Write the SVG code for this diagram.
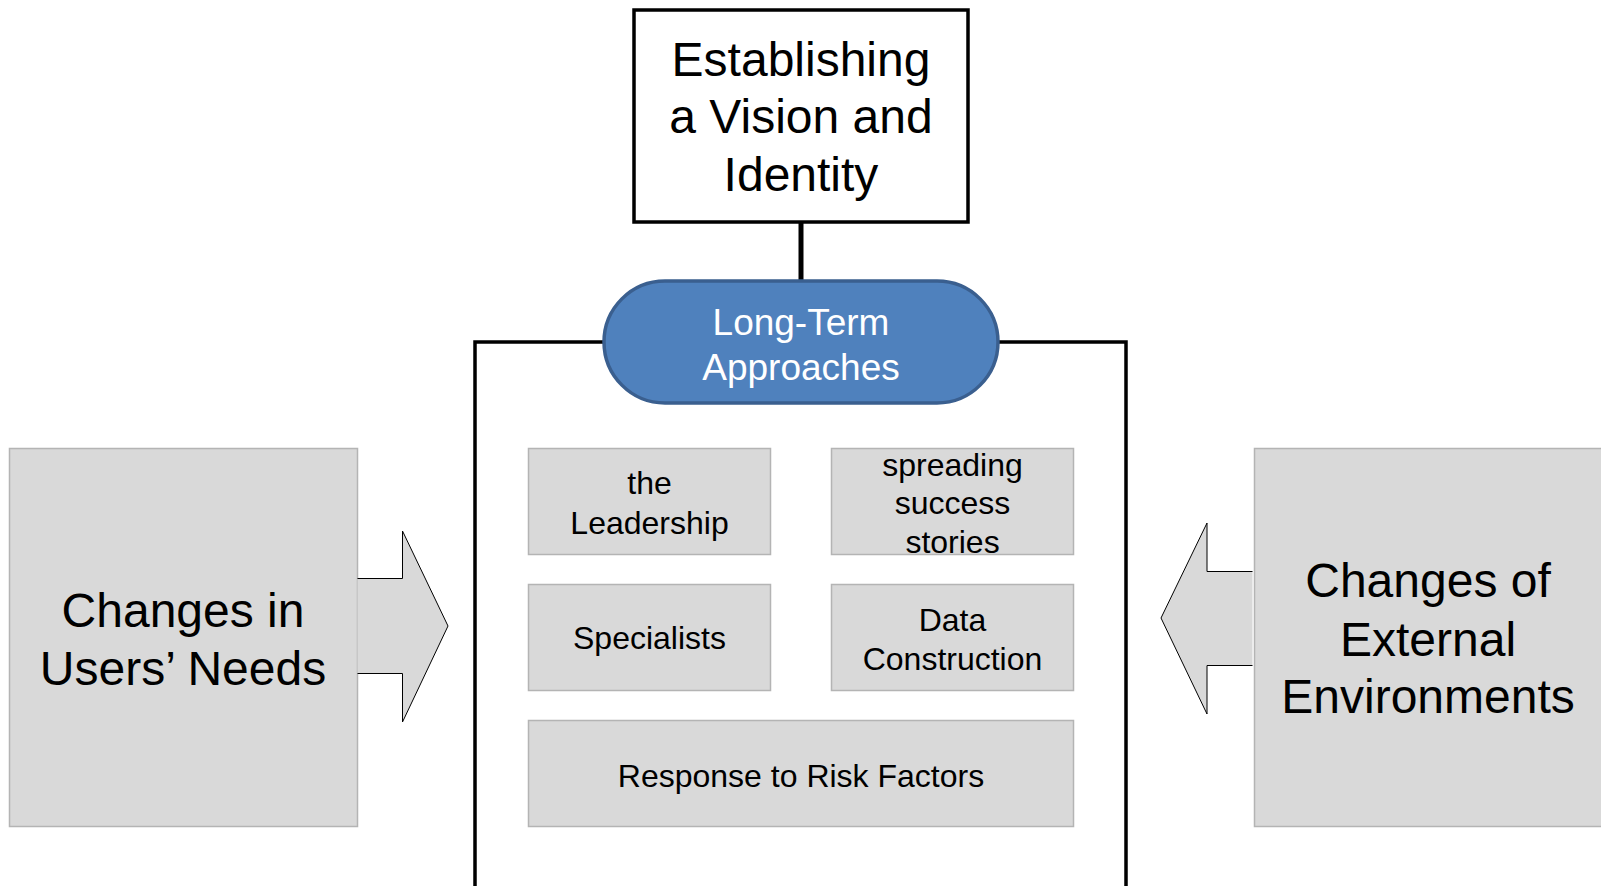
<svg xmlns="http://www.w3.org/2000/svg" width="1601" height="886" viewBox="0 0 1601 886" font-family="Liberation Sans, Arial, Helvetica, sans-serif">
<style>
text{text-anchor:middle;fill:#000}
.big{font-size:48px}
.sm{font-size:32px}
.pill{font-size:37px;fill:#fff}
.gray{fill:#d9d9d9;stroke:#b4b4b4;stroke-width:1.5}
.arrow{fill:#d9d9d9;stroke:#000;stroke-width:1}
</style>
<rect width="1601" height="886" fill="#fff"/>
<g id="connectors">
<line x1="801" y1="222" x2="801" y2="282" stroke="#000" stroke-width="5"/>
<path d="M475,886 V342 H1126 V886" fill="none" stroke="#000" stroke-width="3.5"/>
</g>
<g id="vision">
<rect x="634" y="10" width="334" height="212" fill="#fff" stroke="#000" stroke-width="3.5"/>
<text class="big" x="801" y="76">Establishing</text>
<text class="big" x="801" y="133">a Vision and</text>
<text class="big" x="801" y="191">Identity</text>
</g>
<g id="longterm">
<rect x="604" y="281" width="394" height="122" rx="61" ry="61" fill="#4f81bd" stroke="#3a5f8f" stroke-width="3.5"/>
<text class="pill" x="801" y="335">Long-Term</text>
<text class="pill" x="801" y="380">Approaches</text>
</g>
<g id="leadership">
<rect class="gray" x="528.5" y="448.5" width="242" height="106"/>
<text class="sm" x="649.5" y="494">the</text>
<text class="sm" x="649.5" y="534">Leadership</text>
</g>
<g id="success">
<rect class="gray" x="831.5" y="448.5" width="242" height="106"/>
<text class="sm" x="952.5" y="476">spreading</text>
<text class="sm" x="952.5" y="514">success</text>
<text class="sm" x="952.5" y="553">stories</text>
</g>
<g id="specialists">
<rect class="gray" x="528.5" y="584.5" width="242" height="106"/>
<text class="sm" x="649.5" y="649">Specialists</text>
</g>
<g id="data">
<rect class="gray" x="831.5" y="584.5" width="242" height="106"/>
<text class="sm" x="952.5" y="631">Data</text>
<text class="sm" x="952.5" y="670">Construction</text>
</g>
<g id="risk">
<rect class="gray" x="528.5" y="720.5" width="545" height="106"/>
<text class="sm" x="801" y="787">Response to Risk Factors</text>
</g>
<g id="users">
<rect class="gray" x="9.5" y="448.5" width="348" height="378"/>
<text class="big" x="183" y="627">Changes in</text>
<text class="big" x="183" y="685">Users’ Needs</text>
</g>
<g id="users-arrow">
<path class="arrow" d="M357.5,578.5 H402.5 V531 L448,626 L402.5,722 V673.5 H357.5"/>
</g>
<g id="external">
<rect class="gray" x="1254.5" y="448.5" width="350" height="378"/>
<text class="big" x="1428" y="597">Changes of</text>
<text class="big" x="1428" y="656">External</text>
<text class="big" x="1428" y="713">Environments</text>
</g>
<g id="external-arrow">
<path class="arrow" d="M1252.5,571.5 H1207 V523 L1161,618 L1207,714 V665.5 H1252.5"/>
</g>
</svg>
